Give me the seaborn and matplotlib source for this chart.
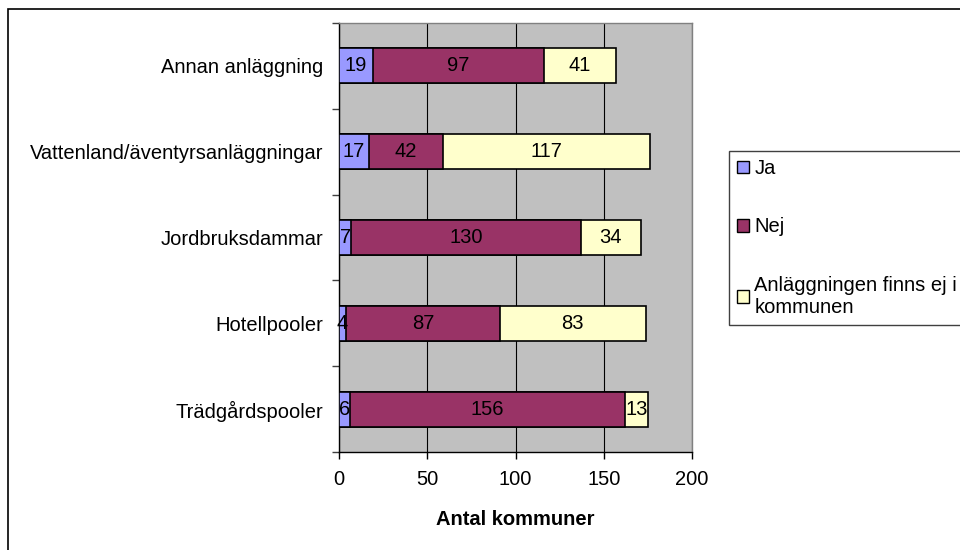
import numpy as np
import pandas as pd
import seaborn as sns
import matplotlib.pyplot as plt
from matplotlib.patches import Patch, Rectangle

categories = ["Annan anläggning", "Vattenland/äventyrsanläggningar",
              "Jordbruksdammar", "Hotellpooler", "Trädgårdspooler"]
ja = [19, 17, 7, 4, 6]
nej = [97, 42, 130, 87, 156]
ej = [41, 117, 34, 83, 13]
series_names = ["Ja", "Nej", "Anläggningen finns ej i\nkommunen"]
colors = ["#9999FF", "#993366", "#FFFFCC"]
x_ticks = [0, 50, 100, 150, 200]

sns.set_theme(style="white")
plt.rcParams["font.family"] = ["Liberation Sans", "DejaVu Sans"]
plt.rcParams["text.color"] = "black"
plt.rcParams["xtick.color"] = "black"
plt.rcParams["ytick.color"] = "black"
plt.rcParams["axes.labelcolor"] = "black"
fs = 14.5

df = pd.DataFrame({"kategori": categories, "Ja": ja, "Nej": nej, "Ej": ej})
df["c1"] = df["Ja"]
df["c2"] = df["Ja"] + df["Nej"]
df["c3"] = df["c2"] + df["Ej"]

fig = plt.figure(figsize=(9.6, 5.5), dpi=100)
ax = fig.add_axes([339 / 960, 1 - 452 / 550, (692 - 339) / 960, (452 - 23) / 550])
ax.set_facecolor("#C0C0C0")

# stacked bars: draw cumulative totals from largest to smallest
for col, color in zip(["c3", "c2", "c1"], colors[::-1]):
    sns.barplot(data=df, y="kategori", x=col, orient="h", color=color,
                saturation=1, width=0.41, edgecolor="black", linewidth=1.2,
                errorbar=None, ax=ax, zorder=3)

for i in range(len(categories)):
    left = 0
    for v in (ja[i], nej[i], ej[i]):
        ax.text(left + v / 2, i, str(v), ha="center", va="center",
                fontsize=fs, color="black", zorder=4)
        left += v

ax.set_xlim(0, 200)
ax.set_xticks(x_ticks)
ax.set_ylim(4.5, -0.5)
ax.xaxis.grid(True, color="black", linewidth=0.8)
ax.set_axisbelow(True)

ax.set_yticks(np.arange(-0.5, 5, 1), minor=True)
ax.tick_params(axis="y", which="major", length=0, pad=11.5, labelsize=fs,
               labelcolor="black")
ax.tick_params(axis="y", which="minor", left=True, length=5, width=1, color="#404040")
ax.tick_params(axis="x", bottom=True, direction="out", length=5, width=1,
               color="black", pad=8, labelsize=fs, labelcolor="black")

for s in ["left", "bottom"]:
    ax.spines[s].set_color("black")
    ax.spines[s].set_linewidth(1)
for s in ["top", "right"]:
    ax.spines[s].set_color("#808080")
    ax.spines[s].set_linewidth(1)

ax.set_ylabel("")
ax.set_xlabel("Antal kommuner", fontsize=fs, fontweight="bold", labelpad=15,
              color="black")

handles = [Patch(facecolor=c, edgecolor="black", label=n)
           for c, n in zip(colors, series_names)]
leg = fig.legend(handles=handles, loc="upper left",
                 bbox_to_anchor=(729 / 960, 1 - 151 / 550), frameon=True,
                 fancybox=False, edgecolor="#404040", framealpha=1, fontsize=fs,
                 labelspacing=1.95, handlelength=0.6, handleheight=0.6,
                 handletextpad=0.25, borderpad=0.4, borderaxespad=0)
for t in leg.get_texts():
    t.set_color("black")

fig.patches.append(Rectangle((8 / 960, -0.1), 1.0, 1.1 - 9 / 550,
                             transform=fig.transFigure, fill=False,
                             edgecolor="black", linewidth=1.2))

fig.savefig("out.png", dpi=100)
